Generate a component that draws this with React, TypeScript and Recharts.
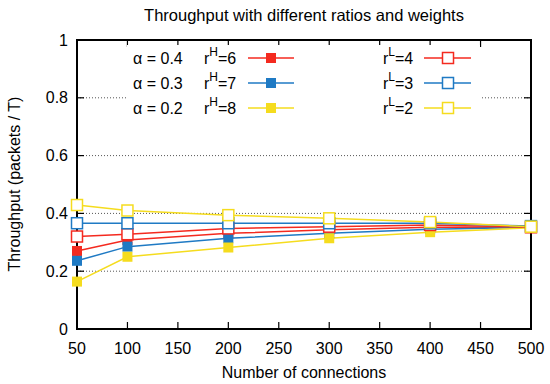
import React from "react";
import {
  LineChart,
  Line,
  XAxis,
  YAxis,
  CartesianGrid,
  ReferenceArea,
} from "recharts";

const connections = [50, 100, 200, 300, 400, 500];
const xTicks = [50, 100, 150, 200, 250, 300, 350, 400, 450, 500];
const yTicks = [0, 0.2, 0.4, 0.6, 0.8, 1];

// filled markers (r^H) and open markers (r^L)
const rH6 = [0.27, 0.308, 0.331, 0.343, 0.352, 0.352];
const rH7 = [0.236, 0.285, 0.314, 0.331, 0.345, 0.352];
const rH8 = [0.164, 0.25, 0.282, 0.314, 0.335, 0.35];
const rL4 = [0.32, 0.328, 0.348, 0.354, 0.36, 0.352];
const rL3 = [0.366, 0.366, 0.366, 0.366, 0.366, 0.356];
const rL2 = [0.429, 0.41, 0.394, 0.383, 0.37, 0.354];

const alphaLabels = ["α = 0.4", "α = 0.3", "α = 0.2"];
const highRatios = [6, 7, 8];
const lowRatios = [4, 3, 2];

const RED = "#f42a1f";
const BLUE = "#1f7ac4";
const YELLOW = "#f5dc1e";
const colors = [RED, BLUE, YELLOW];

const data = connections.map((c, i) => ({
  c,
  rH6: rH6[i],
  rH7: rH7[i],
  rH8: rH8[i],
  rL4: rL4[i],
  rL3: rL3[i],
  rL2: rL2[i],
}));

const W = 550;
const H = 384;
const PLOT_W = 454;
const PLOT_H = 289;
const FONT = "'Liberation Sans', Arial, Helvetica, sans-serif";

const XTick = (props: any) => {
  const { x, y, payload } = props;
  return (
    <g>
      <line x1={x} x2={x} y1={y} y2={y - 7} stroke="#000" strokeWidth={1.2} />
      <line x1={x} x2={x} y1={y - PLOT_H} y2={y - PLOT_H + 7} stroke="#000" strokeWidth={1.2} />
      <text x={x} y={y + 19} textAnchor="middle" dominantBaseline="central" fontSize={16} fill="#000" fontFamily={FONT}>
        {payload.value}
      </text>
    </g>
  );
};

const YTick = (props: any) => {
  const { x, y, payload } = props;
  const v = payload.value;
  const label = v === 0 || v === 1 ? String(v) : v.toFixed(1);
  return (
    <g>
      <line x1={x} x2={x + 7} y1={y} y2={y} stroke="#000" strokeWidth={1.2} />
      <line x1={x + PLOT_W} x2={x + PLOT_W - 7} y1={y} y2={y} stroke="#000" strokeWidth={1.2} />
      <text x={x - 9} y={y} textAnchor="end" dominantBaseline="central" fontSize={16} fill="#000" fontFamily={FONT}>
        {label}
      </text>
    </g>
  );
};

const filledDot = (color: string) => (p: any) => (
  <rect key={p.index} x={p.cx - 5} y={p.cy - 5} width={10} height={10} fill={color} />
);

const openDot = (color: string) => (p: any) => (
  <rect key={p.index} x={p.cx - 5.5} y={p.cy - 5.5} width={11} height={11} fill="#fff" stroke={color} strokeWidth={1.5} />
);

const LegendBox = () => (
  <svg
    width={353}
    height={75}
    style={{ position: "absolute", left: 127, top: 45, background: "#fff" }}
    fontFamily={FONT}
    fontSize={16}
  >
    {alphaLabels.map((a, i) => {
      const cy = 13 + i * 25;
      return (
        <g key={a}>
          <text x={6} y={cy} dominantBaseline="central">{a}</text>
          <text x={77} y={cy} dominantBaseline="central">
            r<tspan dy={-6} fontSize={12}>H</tspan>
            <tspan dy={6}>={highRatios[i]}</tspan>
          </text>
          <line x1={121} x2={167} y1={cy} y2={cy} stroke={colors[i]} strokeWidth={1.5} />
          <rect x={139} y={cy - 5} width={10} height={10} fill={colors[i]} />
          <text x={256} y={cy} dominantBaseline="central">
            r<tspan dy={-6} fontSize={12}>L</tspan>
            <tspan dy={6}>={lowRatios[i]}</tspan>
          </text>
          <line x1={297} x2={344} y1={cy} y2={cy} stroke={colors[i]} strokeWidth={1.5} />
          <rect x={315.5} y={cy - 5.5} width={11} height={11} fill="#fff" stroke={colors[i]} strokeWidth={1.5} />
        </g>
      );
    })}
  </svg>
);

export default function App() {
  return (
    <div style={{ position: "absolute", left: 0, top: 0, width: W, height: H, background: "#fff", fontFamily: FONT }}>
      <LineChart width={W} height={H} data={data} margin={{ top: 40, right: 19, bottom: 0, left: 0 }}>
        <CartesianGrid vertical={false} stroke="#555" strokeDasharray="1 2" />
        <XAxis
          dataKey="c"
          type="number"
          domain={[50, 500]}
          ticks={xTicks}
          height={55}
          axisLine={false}
          tickLine={false}
          tickSize={0}
          tickMargin={0}
          tick={<XTick />}
          interval={0}
        />
        <YAxis
          type="number"
          domain={[0, 1]}
          ticks={yTicks}
          width={77}
          axisLine={false}
          tickLine={false}
          tickSize={0}
          tickMargin={0}
          tick={<YTick />}
          interval={0}
        />
        <Line dataKey="rH6" stroke={RED} strokeWidth={1.5} dot={filledDot(RED)} isAnimationActive={false} />
        <Line dataKey="rH7" stroke={BLUE} strokeWidth={1.5} dot={filledDot(BLUE)} isAnimationActive={false} />
        <Line dataKey="rH8" stroke={YELLOW} strokeWidth={1.5} dot={filledDot(YELLOW)} isAnimationActive={false} />
        <Line dataKey="rL4" stroke={RED} strokeWidth={1.5} dot={openDot(RED)} isAnimationActive={false} />
        <Line dataKey="rL3" stroke={BLUE} strokeWidth={1.5} dot={openDot(BLUE)} isAnimationActive={false} />
        <Line dataKey="rL2" stroke={YELLOW} strokeWidth={1.5} dot={openDot(YELLOW)} isAnimationActive={false} />
        <ReferenceArea x1={50} x2={500} y1={0} y2={1} fill="none" stroke="#000" strokeWidth={2} ifOverflow="visible" />
      </LineChart>
      <LegendBox />
      <svg width={W} height={H} style={{ position: "absolute", left: 0, top: 0, pointerEvents: "none" }} fontFamily={FONT}>
        <text x={304} y={15} textAnchor="middle" dominantBaseline="central" fontSize={16.5}>
          Throughput with different ratios and weights
        </text>
        <text x={304} y={372} textAnchor="middle" dominantBaseline="central" fontSize={16}>
          Number of connections
        </text>
        <text
          x={14}
          y={184}
          textAnchor="middle"
          dominantBaseline="central"
          fontSize={16}
          transform="rotate(-90 14 184)"
        >
          Throughput (packets / T)
        </text>
      </svg>
    </div>
  );
}
